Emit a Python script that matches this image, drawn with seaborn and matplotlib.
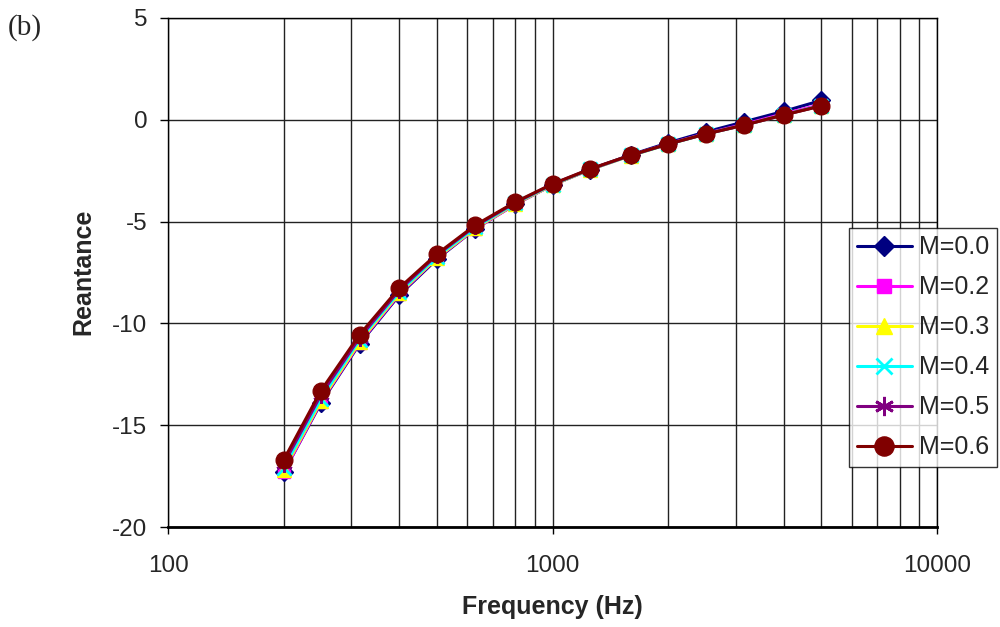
import numpy as np
import pandas as pd
import matplotlib
matplotlib.use("Agg")
import matplotlib.pyplot as plt
import seaborn as sns

freqs = [200, 250, 315, 400, 500, 630, 800, 1000, 1250, 1600, 2000, 2500, 3150, 4000, 5000]
m00 = [-17.3, -13.9, -11.0, -8.6, -6.85, -5.35, -4.15, -3.2, -2.45, -1.72, -1.13, -0.6, -0.1, 0.42, 0.95]
m02 = [-17.3, -13.85, -10.95, -8.55, -6.8, -5.35, -4.15, -3.2, -2.45, -1.75, -1.18, -0.68, -0.22, 0.3, 0.75]
m03 = [-17.2, -13.8, -10.9, -8.5, -6.78, -5.32, -4.13, -3.2, -2.45, -1.76, -1.2, -0.7, -0.26, 0.25, 0.7]
m04 = [-17.1, -13.7, -10.8, -8.45, -6.73, -5.28, -4.1, -3.18, -2.44, -1.75, -1.2, -0.7, -0.26, 0.25, 0.7]
m05 = [-16.9, -13.5, -10.7, -8.35, -6.65, -5.22, -4.07, -3.16, -2.43, -1.74, -1.19, -0.7, -0.26, 0.24, 0.69]
m06 = [-16.7, -13.3, -10.55, -8.25, -6.6, -5.17, -4.04, -3.15, -2.42, -1.73, -1.19, -0.7, -0.26, 0.24, 0.68]
labels = ["M=0.0", "M=0.2", "M=0.3", "M=0.4", "M=0.5", "M=0.6"]
series = [m00, m02, m03, m04, m05, m06]
colors = ["#000080", "#FF00FF", "#FFFF00", "#00FFFF", "#800080", "#800000"]
markers = ["D", "s", "^", "x", (6, 2, 0), "o"]
msizes = [9, 9, 10, 10, 12, 12]
x_ticks = [100, 1000, 10000]
y_ticks = [-20, -15, -10, -5, 0, 5]

sns.set_style("white")
plt.rcParams['font.family'] = ['Liberation Sans', 'DejaVu Sans']

fig = plt.figure(figsize=(10, 6.27), dpi=100)
ax = fig.add_axes([0.168, 1 - 527 / 627, (937 - 168) / 1000, (527 - 18) / 627])

df = pd.DataFrame({
    "Frequency": freqs * len(labels),
    "Value": [v for s in series for v in s],
    "Series": [l for l in labels for _ in freqs],
})

handles = []
for lab, col, mk, ms in zip(labels, colors, markers, msizes):
    sub = df[df["Series"] == lab]
    sns.lineplot(data=sub, x="Frequency", y="Value", ax=ax, color=col, marker=mk,
                 markersize=ms, markeredgecolor=col, markerfacecolor=col,
                 markeredgewidth=2 if mk in ("x", (6, 2, 0)) else 1,
                 linewidth=2.2, legend=False, zorder=3)
    handles.append(ax.lines[-1])

ax.set_xscale("log")
ax.set_xlim(100, 10000)
ax.set_ylim(-20, 5)
ax.set_xticks(x_ticks)
ax.set_xticklabels([str(t) for t in x_ticks])
ax.set_yticks(y_ticks)
ax.set_yticklabels([str(t) for t in y_ticks])
ax.xaxis.set_minor_formatter(matplotlib.ticker.NullFormatter())
ax.xaxis.set_minor_locator(matplotlib.ticker.LogLocator(base=10, subs=np.arange(2, 10)))
ax.grid(True, which="both", axis="x", color="#222222", linewidth=1)
ax.grid(True, which="major", axis="y", color="#222222", linewidth=1)
ax.tick_params(axis="y", which="major", labelsize=17.5, direction="out", length=6,
               color="black", width=1, left=True, pad=9)
ax.tick_params(axis="x", which="major", labelsize=17.5, direction="out", length=5,
               color="black", width=1, bottom=True, pad=15)
ax.tick_params(axis="x", which="minor", length=0)
for sp in ax.spines.values():
    sp.set_color("black")
    sp.set_linewidth(1)
ax.spines["bottom"].set_linewidth(2)

ax.set_xlabel("Frequency (Hz)", fontsize=18, fontweight="bold", va="center", ha="center")
ax.xaxis.set_label_coords(0.5, -(607 - 527) / 509)
ax.set_ylabel("Reantance", fontsize=18, fontweight="bold", va="center", ha="center")
ax.yaxis.set_label_coords(-(168 - 83) / 769, 0.5 + (273 - 272.5) / 509)

leg = fig.legend(handles, labels, loc="upper left", bbox_to_anchor=(0.849, 1 - 228 / 627),
                 fontsize=18, frameon=True, fancybox=False, edgecolor="black",
                 handlelength=2.2, handletextpad=0.3, labelspacing=0.64,
                 borderpad=0.3, borderaxespad=0, markerscale=1.15)
leg.get_frame().set_linewidth(1)
leg.set_zorder(5)

fig.text(0.008, 1 - 28 / 627, "(b)", fontsize=21, family=["Liberation Serif", "DejaVu Serif"],
         va="center", ha="left")

fig.savefig("out.png", dpi=100)
